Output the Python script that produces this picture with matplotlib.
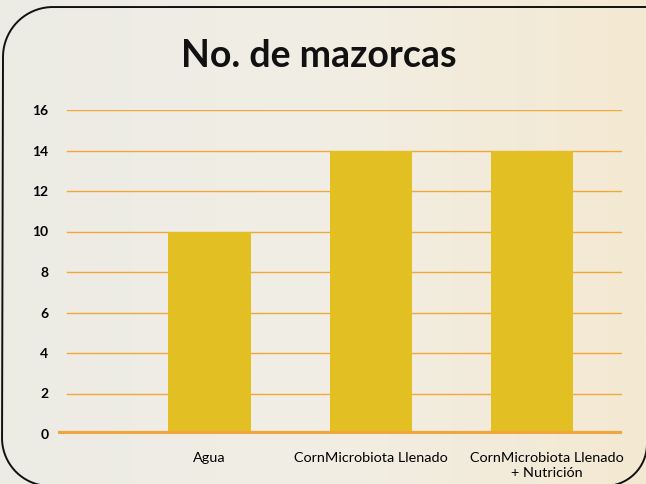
import matplotlib
matplotlib.use("Agg")
import matplotlib.pyplot as plt
import matplotlib.transforms as mtransforms
import numpy as np
from matplotlib.colors import LinearSegmentedColormap

categories = ["Agua", "CornMicrobiota Llenado", "CornMicrobiota Llenado\n+ Nutrición"]
values = [10, 14, 14]
yticks = [0, 2, 4, 6, 8, 10, 12, 14, 16]

plt.rcParams["font.family"] = ["Lato", "DejaVu Sans"]

W, H = 646, 484
fig = plt.figure(figsize=(W / 100, H / 100), dpi=100)

# background gradient, drawn in pixel coordinates
bg = fig.add_axes([0, 0, 1, 1], zorder=-10)
grad = np.linspace(0, 1, 256)[None, :]
cmap = LinearSegmentedColormap.from_list("bg", ["#ecebe5", "#f1eee4", "#f4e9d2"])
bg.imshow(grad, aspect="auto", cmap=cmap, extent=[0, W, 0, H], zorder=0)
bg.set_xlim(0, W)
bg.set_ylim(0, H)
bg.axis("off")


def corner(cx, cy, r, a0, a1):
    # arc in top-down pixel coords, returned in bottom-up coords
    a = np.radians(np.linspace(a0, a1, 40))
    return cx + r * np.cos(a), H - (cy - r * np.sin(a))


# rounded border: top-left, bottom-left, bottom-right corners
xs, ys = [], []
for cx, cy, r, a0, a1 in [(W + 20, 7, 0, 90, 90),
                          (53, 57, 50, 90, 180),
                          (50, 438, 48, 180, 270),
                          (605, 444, 42, 270, 360)]:
    px, py = corner(cx, cy, r, a0, a1)
    xs.extend(px)
    ys.extend(py)
bg.plot(xs, ys, color="#111111", lw=1.4, zorder=2)

ax = fig.add_axes([58 / W, (H - 434) / H, (622 - 58) / W, (434 - 110) / H])
ax.set_facecolor("none")
x = np.arange(len(categories))
ax.set_xlim(-0.94, 2.56)
ax.set_ylim(0, 16)

for t in yticks[1:]:
    ax.axhline(t, xmin=9 / 564, xmax=1, color="#f2a73b", linewidth=1.0, zorder=1)
ax.bar(x, values, width=0.51, color="#e2bf22", zorder=2)
ax.axhline(0, color="#f0a53d", linewidth=4.5, zorder=3)

for s in ax.spines.values():
    s.set_visible(False)
ax.set_yticks(yticks)
ax.set_yticklabels([str(t) for t in yticks], fontsize=10, fontweight="bold")
ax.tick_params(axis="y", length=0, pad=7)
ax.set_xticks(x)
ax.set_xticklabels(categories, fontsize=10.4, linespacing=1.25)
ax.tick_params(axis="x", length=0, pad=13)
last = ax.get_xticklabels()[2]
last.set_transform(last.get_transform() +
                   mtransforms.ScaledTranslation(0.15, 0, fig.dpi_scale_trans))

fig.text(319 / W, (H - 56) / H, "No. de mazorcas", ha="center", va="center",
         fontsize=27, fontweight="bold", color="#111111")

plt.savefig("out.png", dpi=100)
